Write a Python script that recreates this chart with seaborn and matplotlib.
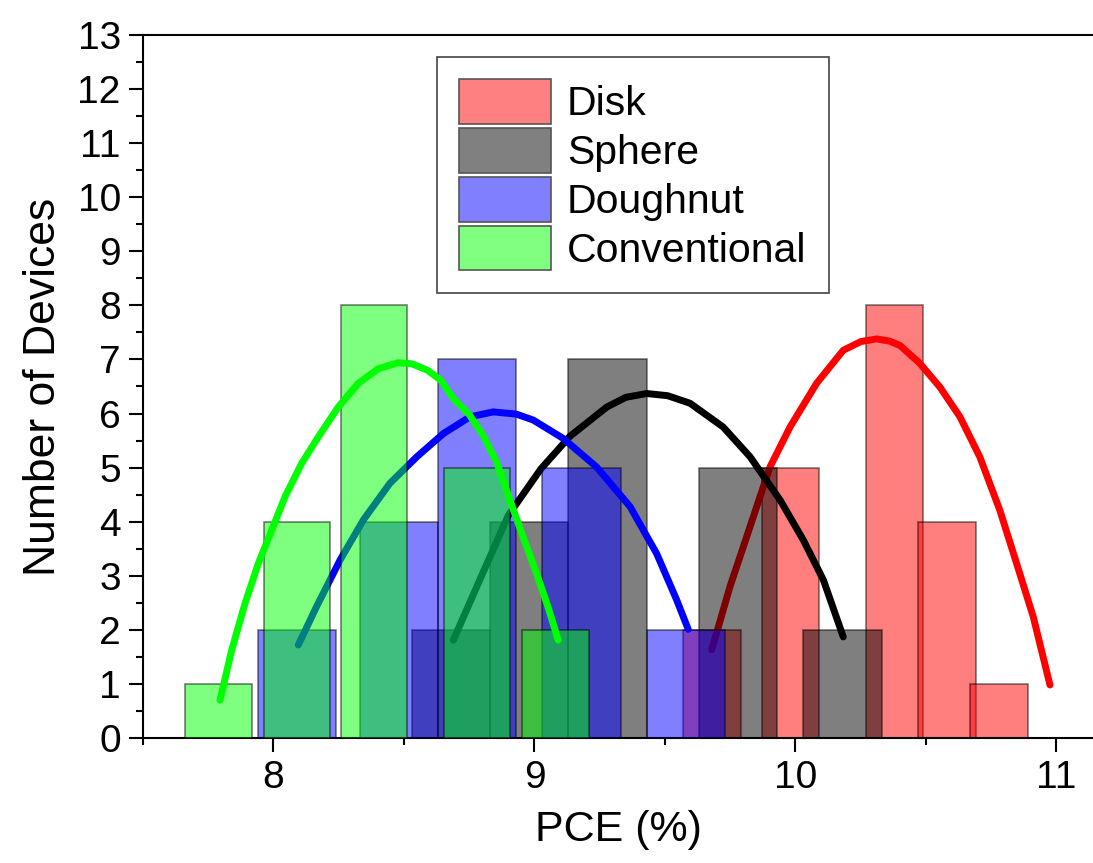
import numpy as np
import seaborn as sns
import matplotlib.pyplot as plt
from matplotlib.patches import Patch
from matplotlib.ticker import MultipleLocator

# bar data (center PCE, number of devices)
disk_x = [9.68, 9.98, 10.38, 10.58, 10.78]
disk_n = [2, 5, 8, 4, 1]
sphere_x = [8.68, 8.98, 9.28, 9.78, 10.18]
sphere_n = [2, 4, 7, 5, 2]
dough_x = [8.09, 8.48, 8.78, 9.18, 9.58]
dough_n = [2, 4, 7, 5, 2]
conv_x = [7.79, 8.09, 8.385, 8.78, 9.08]
conv_n = [1, 4, 8, 5, 2]

# fitted distribution curves
disk_cx = [9.679, 9.749, 9.826, 9.902, 9.979, 10.081, 10.183, 10.25, 10.311, 10.36,
           10.40, 10.476, 10.553, 10.63, 10.706, 10.783, 10.847, 10.911, 10.975]
disk_cy = [1.63, 2.80, 3.91, 5.01, 5.75, 6.56, 7.17, 7.33, 7.38, 7.34,
           7.26, 6.93, 6.49, 5.94, 5.20, 4.21, 3.23, 2.24, 0.98]
sphere_cx = [8.689, 8.779, 8.90, 9.025, 9.136, 9.277, 9.35, 9.43, 9.51, 9.596,
             9.723, 9.826, 9.941, 10.03, 10.107, 10.183]
sphere_cy = [1.81, 2.80, 4.12, 4.98, 5.58, 6.12, 6.30, 6.37, 6.33, 6.19,
             5.75, 5.20, 4.40, 3.66, 2.92, 1.87]
dough_cx = [8.095, 8.165, 8.255, 8.344, 8.446, 8.549, 8.651, 8.753, 8.842, 8.93,
            8.995, 9.11, 9.238, 9.366, 9.468, 9.545, 9.589]
dough_cy = [1.72, 2.43, 3.29, 4.03, 4.71, 5.20, 5.63, 5.94, 6.03, 5.99,
            5.88, 5.54, 5.01, 4.28, 3.41, 2.55, 2.01]
conv_cx = [7.795, 7.84, 7.891, 7.942, 7.993, 8.044, 8.108, 8.172, 8.248, 8.325,
           8.402, 8.478, 8.53, 8.59, 8.64, 8.69, 8.75, 8.80, 8.855, 8.90,
           8.95, 9.008, 9.05, 9.091]
conv_cy = [0.70, 1.63, 2.49, 3.23, 3.84, 4.46, 5.08, 5.57, 6.12, 6.56,
           6.83, 6.94, 6.92, 6.80, 6.62, 6.27, 5.98, 5.62, 5.10, 4.48,
           3.80, 3.04, 2.45, 1.81]

labels = ["Disk", "Sphere", "Doughnut", "Conventional"]

sns.set_style("ticks")
plt.rcParams["font.family"] = ["Liberation Sans", "DejaVu Sans"]
plt.rcParams["text.color"] = "black"
plt.rcParams["axes.labelcolor"] = "black"

fig = plt.figure(figsize=(10.93, 8.63), dpi=100)
ax = fig.add_axes([143 / 1093, 125 / 863, 950 / 1093, 703 / 863])

series = [
    (disk_x, disk_n, 0.22, (1, 0, 0), disk_cx, disk_cy, "#ff0000"),
    (sphere_x, sphere_n, 0.30, (0, 0, 0), sphere_cx, sphere_cy, "#000000"),
    (dough_x, dough_n, 0.30, (0, 0, 1), dough_cx, dough_cy, "#0000ff"),
    (conv_x, conv_n, 0.256, (0, 1, 0), conv_cx, conv_cy, "#00ff00"),
]

for i, (bx, bn, bw, col, cx, cy, lc) in enumerate(series):
    # seaborn scales width by the smallest gap between bars on a native axis
    step = np.diff(np.unique(bx)).min()
    sns.barplot(x=bx, y=bn, native_scale=True, width=bw / step, color=col,
                saturation=1, alpha=0.5, edgecolor="black", linewidth=1.2,
                errorbar=None, zorder=1 + 2 * i, ax=ax)
    sns.lineplot(x=cx, y=cy, sort=False, estimator=None, color=lc, lw=5,
                 solid_capstyle="round", solid_joinstyle="round",
                 zorder=2 + 2 * i, ax=ax)

ax.set_xlim(7.5, 7.5 + 950 / 261)
ax.set_ylim(0, 13)
ax.xaxis.set_major_locator(MultipleLocator(1))
ax.xaxis.set_minor_locator(MultipleLocator(0.5))
ax.yaxis.set_major_locator(MultipleLocator(1))
ax.yaxis.set_minor_locator(MultipleLocator(0.5))
ax.tick_params(which="major", direction="out", length=10, width=1.5,
               labelsize=28, colors="black", labelcolor="black", pad=6)
ax.tick_params(which="minor", direction="out", length=5, width=1.5,
               colors="black")
ax.tick_params(top=False, right=False, which="both")

for side in ["left", "bottom", "top"]:
    ax.spines[side].set_visible(True)
    ax.spines[side].set_linewidth(1.5)
    ax.spines[side].set_color("black")
ax.spines["right"].set_visible(False)

ax.set_xlabel("PCE (%)", fontsize=31, labelpad=10, color="black")
ax.set_ylabel("Number of Devices", fontsize=32, labelpad=10, color="black")

fills = [(1, 0.5, 0.5), (0.5, 0.5, 0.5), (0.5, 0.5, 1), (0.5, 1, 0.5)]
handles = [Patch(facecolor=f, edgecolor="#555555", linewidth=1.2) for f in fills]
leg = ax.legend(handles, labels, loc="upper left", bbox_to_anchor=(0.309, 0.969),
                borderaxespad=0, fontsize=29.5, frameon=True, fancybox=False,
                framealpha=1, edgecolor="#444444", handlelength=2.25,
                handleheight=1.3, handletextpad=0.38, labelspacing=0.1,
                borderpad=0.55)
leg.get_frame().set_linewidth(1.2)
for t in leg.get_texts():
    t.set_color("black")

fig.savefig("out.png", dpi=100)
